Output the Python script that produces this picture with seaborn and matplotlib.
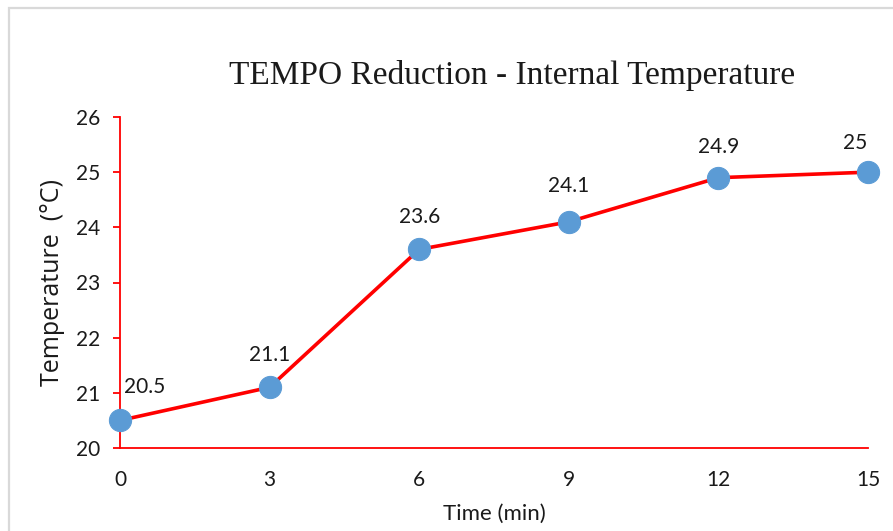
import matplotlib
matplotlib.use("Agg")
import matplotlib.pyplot as plt
import seaborn as sns
import pandas as pd
from matplotlib.patches import Rectangle

time_min = [0, 3, 6, 9, 12, 15]
temperature = [20.5, 21.1, 23.6, 24.1, 24.9, 25]
label_offsets = [(18, 24), (0, 23), (0, 23), (0, 26), (0, 22), (-9, 21)]

sns.set_theme(style="white")
plt.rcParams['font.family'] = ['Lato', 'DejaVu Sans']

df = pd.DataFrame({"Time": time_min, "Temp": temperature})

fig = plt.figure(figsize=(8.93, 5.31), dpi=100)
ax = fig.add_axes([120/893, 1-448/531, (868-120)/893, (448-117)/531])

sns.lineplot(data=df, x="Time", y="Temp", ax=ax, color="#ff0000", linewidth=2.6,
             marker="o", markersize=16, markerfacecolor="#5b9bd5",
             markeredgecolor="#5b9bd5", clip_on=False, zorder=3)

for x, y, (dx, dy) in zip(time_min, temperature, label_offsets):
    ax.annotate(f"{y:g}", (x, y), xytext=(dx, dy), textcoords="offset points",
                ha="center", va="center", fontsize=15, color="#1a1a1a")

ax.set_xlim(0, 15)
ax.set_ylim(20, 26)
ax.set_xticks(time_min)
ax.set_yticks(range(20, 27))
ax.tick_params(axis="y", direction="out", length=5, width=1.3, color="#ff0000",
               labelsize=15, labelcolor="#1a1a1a", pad=9, left=True)
ax.tick_params(axis="x", length=0, labelsize=15, labelcolor="#1a1a1a", pad=16)
for s in ["top", "right"]:
    ax.spines[s].set_visible(False)
for s in ["left", "bottom"]:
    ax.spines[s].set_color("#ff0000")
    ax.spines[s].set_linewidth(1.3)
ax.set_xlabel("Time (min)", fontsize=16, color="#1a1a1a", labelpad=10)
ax.set_ylabel("Temperature  (°C)", fontsize=18, color="#1a1a1a", labelpad=8,
              family=["Open Sans", "DejaVu Sans"])

fig.text(512/893, 1-76/531, "TEMPO Reduction - Internal Temperature",
         family=["Liberation Serif", "DejaVu Serif"], fontsize=24,
         ha="center", va="center", color="#1a1a1a")

fig.patches.append(Rectangle((9/893, -0.1), 1.2, 1.1 - 8/531, transform=fig.transFigure,
                             fill=False, edgecolor="#d9d9d9", linewidth=1.6))

fig.savefig("out.png", dpi=100)
